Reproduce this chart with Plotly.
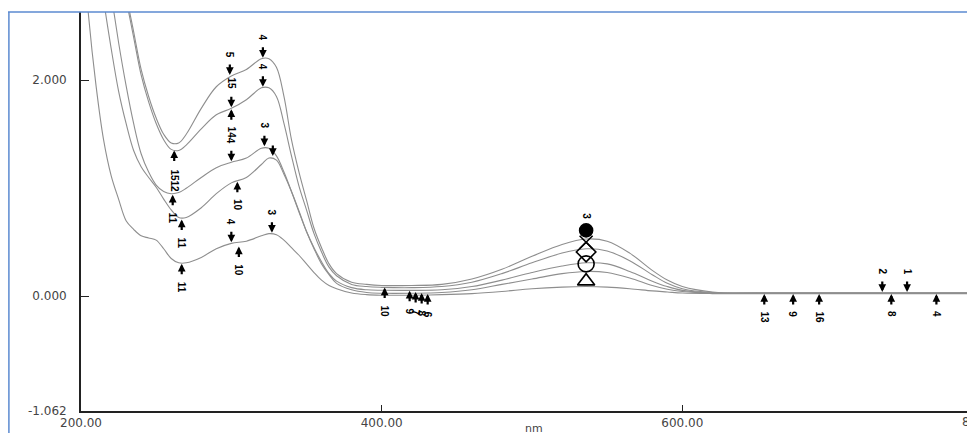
import plotly.graph_objects as go

# ---------------- data ----------------
wavelength = [200, 205, 210, 215, 220, 225, 230, 235, 240, 245, 250, 255, 260, 265, 270,
              280, 290, 300, 310, 320, 325, 330, 335, 340, 345, 350, 355, 360, 365, 370,
              380, 390, 400, 420, 440, 460, 480, 500, 520, 536, 550, 565, 580, 590, 600,
              620, 650, 700, 750, 800]

abs_1 = [6.0, 5.5, 5.0, 4.4, 3.8, 3.2, 2.8, 2.45, 2.1, 1.85, 1.65, 1.5, 1.42, 1.42, 1.5,
         1.74, 1.94, 2.04, 2.1, 2.2, 2.2, 2.12, 1.85, 1.45, 1.15, 0.89, 0.63, 0.45, 0.3, 0.21,
         0.13, 0.11, 0.10, 0.10, 0.11, 0.16, 0.25, 0.37, 0.48, 0.53, 0.51, 0.40, 0.24, 0.15, 0.09,
         0.04, 0.03, 0.03, 0.03, 0.03]
abs_2 = [6.0, 5.4, 4.8, 4.2, 3.6, 3.1, 2.75, 2.4, 2.05, 1.8, 1.6, 1.45, 1.36, 1.35, 1.4,
         1.55, 1.68, 1.74, 1.82, 1.93, 1.93, 1.85, 1.6, 1.3, 1.02, 0.8, 0.58, 0.41, 0.27, 0.19,
         0.11, 0.09, 0.083, 0.08, 0.09, 0.13, 0.21, 0.31, 0.40, 0.44, 0.42, 0.33, 0.20, 0.12, 0.07,
         0.035, 0.03, 0.03, 0.03, 0.03]
abs_3 = [5.0, 4.4, 3.8, 3.3, 2.8, 2.35, 1.95, 1.6, 1.32, 1.15, 1.03, 0.97, 0.95, 0.96, 1.0,
         1.1, 1.19, 1.24, 1.28, 1.37, 1.37, 1.3, 1.15, 0.97, 0.78, 0.6, 0.45, 0.32, 0.21, 0.14,
         0.08, 0.06, 0.056, 0.055, 0.06, 0.09, 0.15, 0.22, 0.28, 0.31, 0.30, 0.23, 0.14, 0.09, 0.055,
         0.03, 0.03, 0.03, 0.03, 0.03]
abs_4 = [4.5, 3.9, 3.3, 2.75, 2.3, 1.9, 1.6, 1.35, 1.2, 1.1, 1.01, 0.9, 0.8, 0.73, 0.73,
         0.82, 0.95, 1.05, 1.1, 1.22, 1.28, 1.26, 1.13, 0.97, 0.79, 0.6, 0.44, 0.3, 0.2, 0.12,
         0.06, 0.035, 0.028, 0.028, 0.035, 0.06, 0.11, 0.16, 0.21, 0.23, 0.22, 0.17, 0.10, 0.065, 0.045,
         0.03, 0.03, 0.03, 0.03, 0.03]
abs_5 = [3.5, 2.6, 1.95, 1.45, 1.12, 0.9, 0.7, 0.62, 0.56, 0.54, 0.52, 0.44, 0.35, 0.31, 0.31,
         0.36, 0.44, 0.49, 0.51, 0.56, 0.58, 0.57, 0.52, 0.45, 0.38, 0.3, 0.22, 0.15, 0.1, 0.07,
         0.03, 0.015, 0.01, 0.01, 0.015, 0.025, 0.045, 0.07, 0.085, 0.09, 0.085, 0.07, 0.05, 0.04, 0.03,
         0.025, 0.025, 0.025, 0.025, 0.025]
series = [abs_1, abs_2, abs_3, abs_4, abs_5]

# big symbols stacked at the visible band peak
big_nm = [536, 536, 536, 536, 536]
big_abs = [0.61, 0.50, 0.41, 0.30, 0.14]
big_label = ["3", "", "", "", ""]

# peak picks: arrow above the curve (label above)
peak_nm = [299, 300, 321, 321, 300, 322, 327.6, 300, 327, 733, 749.5]
peak_abs = [2.04, 1.74, 2.20, 1.93, 1.24, 1.38, 1.29, 0.49, 0.58, 0.03, 0.03]
peak_label = ["5", "15", "4", "4", "4", "3", "", "4", "3", "2", "1"]

# valley picks: arrow below the curve (label below)
valley_nm = [262, 300, 304, 261, 267, 305, 267, 402, 418.6, 422.6, 426.6, 430.6,
             654.5, 673.7, 691, 739, 769]
valley_abs = [1.36, 1.74, 1.07, 0.95, 0.72, 0.47, 0.31, 0.09, 0.06, 0.05, 0.04, 0.03,
              0.03, 0.03, 0.03, 0.03, 0.03]
valley_label = ["1512", "14", "10", "11", "11", "10", "11", "10", "9", "7", "8", "6",
                "13", "9", "16", "8", "4"]

x_ticks = [200, 400, 600]
x_tick_text = ["200.00", "400.00", "600.00"]
x_last_tick = 800
x_last_text = "800.00"
y_ticks = [2.0, 0.0, -1.062]
y_tick_text = ["2.000", "0.000", "-1.062"]
x_axis_title = "nm"

# ---------------- figure ----------------
# page body has an 8px margin, so the figure starts at page (8, 8)
L, T, B, R = 73, 4, 30, 0
PLOT_W = 975 - L - R

fig = go.Figure()
for s in series:
    fig.add_trace(go.Scatter(x=wavelength, y=s, mode="lines", line_shape="spline",
                             line=dict(color="#8e8e8e", width=1.1), hoverinfo="skip",
                             showlegend=False))

symbols = ["circle", "x-thin-open", "diamond-open", "circle-open", "triangle-up-open"]
sizes = [13, 13, 15, 16, 15]
fig.add_trace(go.Scatter(x=big_nm, y=big_abs, mode="markers",
                         marker=dict(symbol=symbols, size=sizes, color="black", opacity=1,
                                     line=dict(color="black", width=1.6)),
                         showlegend=False, hoverinfo="skip"))

FONT = "Liberation Sans"
ann = []
for x, y, t in zip(big_nm, big_abs, big_label):
    if t:
        ann.append(dict(x=x, y=y, text="<b>%s</b>" % t, showarrow=False, textangle=90,
                        yshift=14, font=dict(family=FONT, size=10, color="black")))

def picks(xs, ys, labels, above):
    sign = 1 if above else -1
    for x, y, t in zip(xs, ys, labels):
        ann.append(dict(x=x, y=y, ax=0, ay=-13 * sign, text="", showarrow=True,
                        arrowhead=2, arrowsize=0.7, arrowwidth=2.2, arrowcolor="black",
                        standoff=1))
        if t:
            half = 3.3 * len(t)
            ann.append(dict(x=x, y=y, text="<b>%s</b>" % t, showarrow=False, textangle=90,
                            yshift=sign * (18 + half),
                            font=dict(family=FONT, size=10, color="black")))

picks(peak_nm, peak_abs, peak_label, True)
picks(valley_nm, valley_abs, valley_label, False)

# last x tick label sits on the right edge and is cut there, as in the scan
ann.append(dict(x=x_last_tick, yref="paper", y=0, yanchor="top", yshift=-2,
                text=x_last_text, showarrow=False, xanchor="center",
                font=dict(family="DejaVu Sans", size=12, color="#444")))
ann.append(dict(xref="paper", yref="paper", x=(534 - 81) / PLOT_W, y=0, yanchor="top",
                yshift=-9, text=x_axis_title, showarrow=False,
                font=dict(family="DejaVu Sans", size=11, color="#444")))

bx = -L / PLOT_W
fig.update_layout(
    width=975, height=433,
    margin=dict(l=L, r=R, t=T, b=B),
    paper_bgcolor="white", plot_bgcolor="white",
    annotations=ann,
    shapes=[
        dict(type="line", xref="paper", yref="paper", x0=bx, x1=1.05, y0=1, y1=1,
             line=dict(color="#5b8ad0", width=1.5)),
        dict(type="line", xref="paper", yref="paper", x0=bx + 0.001, x1=bx + 0.001,
             y0=1, y1=-0.2, line=dict(color="#5b8ad0", width=1.5)),
    ],
    xaxis=dict(range=[200, 800], tickvals=x_ticks, ticktext=x_tick_text,
               showgrid=False, zeroline=False, showline=True, linecolor="#222",
               linewidth=1.6, ticks="inside", ticklen=6, tickcolor="#222",
               automargin=False,
               tickfont=dict(family="DejaVu Sans", size=12, color="#444")),
    yaxis=dict(range=[-1.062, 2.632], tickvals=y_ticks, ticktext=y_tick_text,
               showgrid=False, zeroline=False, showline=True, linecolor="#222",
               linewidth=1.8, ticks="inside", ticklen=8, tickcolor="#222",
               ticklabelstandoff=10, automargin=False,
               tickfont=dict(family="DejaVu Sans", size=12, color="#444")),
)

fig.write_html("out.html")
